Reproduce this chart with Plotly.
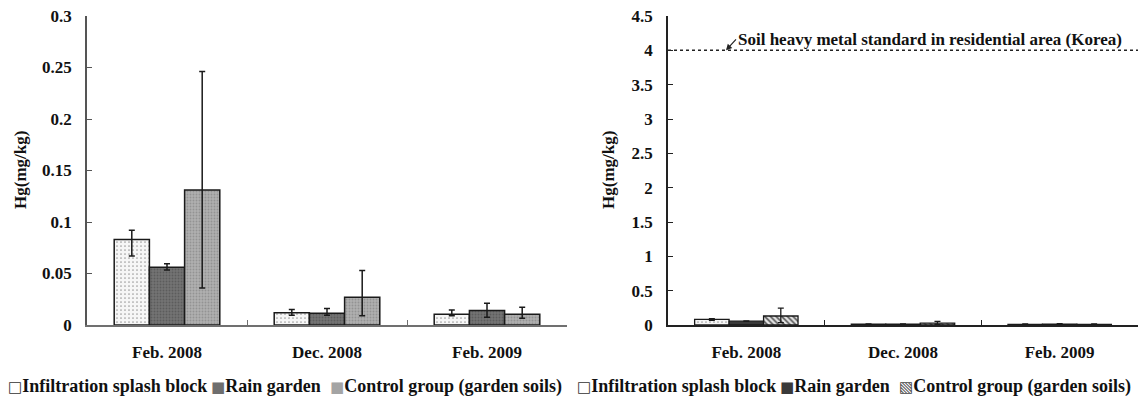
import plotly.graph_objects as go

# ---- data ----
categories = ["Feb. 2008", "Dec. 2008", "Feb. 2009"]
series_names = ["Infiltration splash block", "Rain garden", "Control group (garden soils)"]

infiltration = [0.083, 0.012, 0.0105]
infiltration_err_plus = [0.009, 0.003, 0.004]
infiltration_err_minus = [0.016, 0.0025, 0.0015]

rain = [0.056, 0.0115, 0.014]
rain_err_plus = [0.0035, 0.0045, 0.007]
rain_err_minus = [0.0025, 0.002, 0.0065]

control = [0.131, 0.027, 0.0105]
control_err_plus = [0.115, 0.026, 0.0067]
control_err_minus = [0.095, 0.018, 0.004]

standard_value = 4.0
standard_label = "Soil heavy metal standard in residential area (Korea)"
y_title = "Hg(mg/kg)"

FONT = "Liberation Serif, Times New Roman, serif"

values = [infiltration, rain, control]
err_plus = [infiltration_err_plus, rain_err_plus, control_err_plus]
err_minus = [infiltration_err_minus, rain_err_minus, control_err_minus]

left_styles = [
    dict(color="#f6f6f6", pattern=dict(shape=".", fgcolor="#a0a0a0", bgcolor="#f6f6f6", size=4, solidity=0.15, fillmode="replace")),
    dict(color="#6e6e6e", pattern=dict(shape=".", fgcolor="#5c5c5c", bgcolor="#737373", size=3, solidity=0.3, fillmode="replace")),
    dict(color="#acacac", pattern=dict(shape=".", fgcolor="#939393", bgcolor="#b0b0b0", size=3, solidity=0.3, fillmode="replace")),
]
right_styles = [
    dict(color="#f6f6f6", pattern=dict(shape=".", fgcolor="#a0a0a0", bgcolor="#f6f6f6", size=4, solidity=0.15, fillmode="replace")),
    dict(color="#3a3a3a", pattern=dict(shape="", fillmode="replace")),
    dict(color="#cccccc", pattern=dict(shape="\\", fgcolor="#555555", bgcolor="#e6e6e6", size=4, solidity=0.4, fillmode="replace")),
]

# legend swatch glyphs (drawn as text), per chart
left_swatches = [("□", "#333333"), ("■", "#6e6e6e"), ("■", "#a4a4a4")]
right_swatches = [("□", "#333333"), ("■", "#3a3a3a"), ("▧", "#444444")]

fig = go.Figure()

for i, name in enumerate(series_names):
    st = left_styles[i]
    fig.add_trace(go.Bar(
        x=categories, y=values[i], name=name, showlegend=False,
        xaxis="x", yaxis="y",
        marker=dict(color=st["color"], pattern=st["pattern"], line=dict(color="#1a1a1a", width=1.5)),
        error_y=dict(type="data", symmetric=False, array=err_plus[i], arrayminus=err_minus[i],
                     color="#1a1a1a", thickness=1.5, width=3),
    ))

for i, name in enumerate(series_names):
    st = right_styles[i]
    fig.add_trace(go.Bar(
        x=categories, y=values[i], name=name, showlegend=False,
        xaxis="x2", yaxis="y2",
        marker=dict(color=st["color"], pattern=st["pattern"], line=dict(color="#1a1a1a", width=1.3)),
        error_y=dict(type="data", symmetric=False, array=err_plus[i], arrayminus=err_minus[i],
                     color="#1a1a1a", thickness=1.3, width=3),
    ))

tickfont = dict(family=FONT, size=17, color="#111", weight="bold")
ydom = [1 - 325 / 399, 1 - 16 / 399]

common_x = dict(type="category", showline=True, ticks="inside", tickson="boundaries", ticklen=5,
                tickfont=tickfont, ticklabelstandoff=11, showgrid=False, zeroline=False, automargin=False)
common_y = dict(showline=True, ticks="inside", ticklen=5, tickfont=tickfont, ticklabelstandoff=10,
                showgrid=False, zeroline=False, automargin=False)

fig.update_layout(
    width=1140, height=399,
    margin=dict(l=0, r=0, t=0, b=0, autoexpand=False),
    paper_bgcolor="white", plot_bgcolor="white",
    barmode="group", bargap=0.34, bargroupgap=0,
    showlegend=False,
    xaxis=dict(domain=[87 / 1140, 567 / 1140], anchor="y", linecolor="#707070", linewidth=1.5,
               tickcolor="#707070", **common_x),
    yaxis=dict(domain=ydom, anchor="x", range=[0, 0.3], dtick=0.05, linecolor="#555", linewidth=1.5,
               tickcolor="#555", **common_y),
    xaxis2=dict(domain=[668 / 1140, 1138 / 1140], anchor="y2", linecolor="#222", linewidth=1.5,
                tickcolor="#222", **common_x),
    yaxis2=dict(domain=ydom, anchor="x2", range=[0, 4.5], dtick=0.5, linecolor="#222", linewidth=1.5,
                tickcolor="#222", **common_y),
)

# dashed standard line on right chart
fig.add_shape(type="line", xref="x2 domain", yref="y2", x0=0, x1=1, y0=standard_value, y1=standard_value,
              line=dict(color="#222", width=1.5, dash="dot"))

fig.add_annotation(xref="x2 domain", yref="y2", x=(726 - 668) / 470, y=standard_value,
                   text=standard_label, showarrow=True, arrowhead=2, arrowsize=1, arrowwidth=1.2,
                   arrowcolor="#222", ax=10, ay=-11, xanchor="left", yanchor="middle",
                   font=dict(family=FONT, size=17, color="#111", weight="bold"))

# y axis titles
for xpx in (20, 608):
    fig.add_annotation(xref="paper", yref="paper", x=xpx / 1140, y=1 - 170 / 399, text=y_title,
                       textangle=-90, xanchor="center", yanchor="middle", showarrow=False,
                       font=dict(family=FONT, size=17, color="#111", weight="bold"))

# legends (swatch glyph + series name), one row under each chart
legend_font = dict(family=FONT, size=18, color="#111", weight="bold")
left_item_x = [6, 209, 328]
right_item_x = [575, 778, 897]
for swatches, item_x in ((left_swatches, left_item_x), (right_swatches, right_item_x)):
    for (glyph, gcolor), name, xpx in zip(swatches, series_names, item_x):
        fig.add_annotation(
            xref="paper", yref="paper", x=xpx / 1140, y=1 - 386 / 399,
            xanchor="left", yanchor="middle", showarrow=False,
            text=f'<span style="font-family:DejaVu Sans;font-size:15px;color:{gcolor}">{glyph}</span>{name}',
            font=legend_font,
        )

fig.write_html("out.html", post_script="document.body.style.margin='0px';",
               config={"displayModeBar": False})
